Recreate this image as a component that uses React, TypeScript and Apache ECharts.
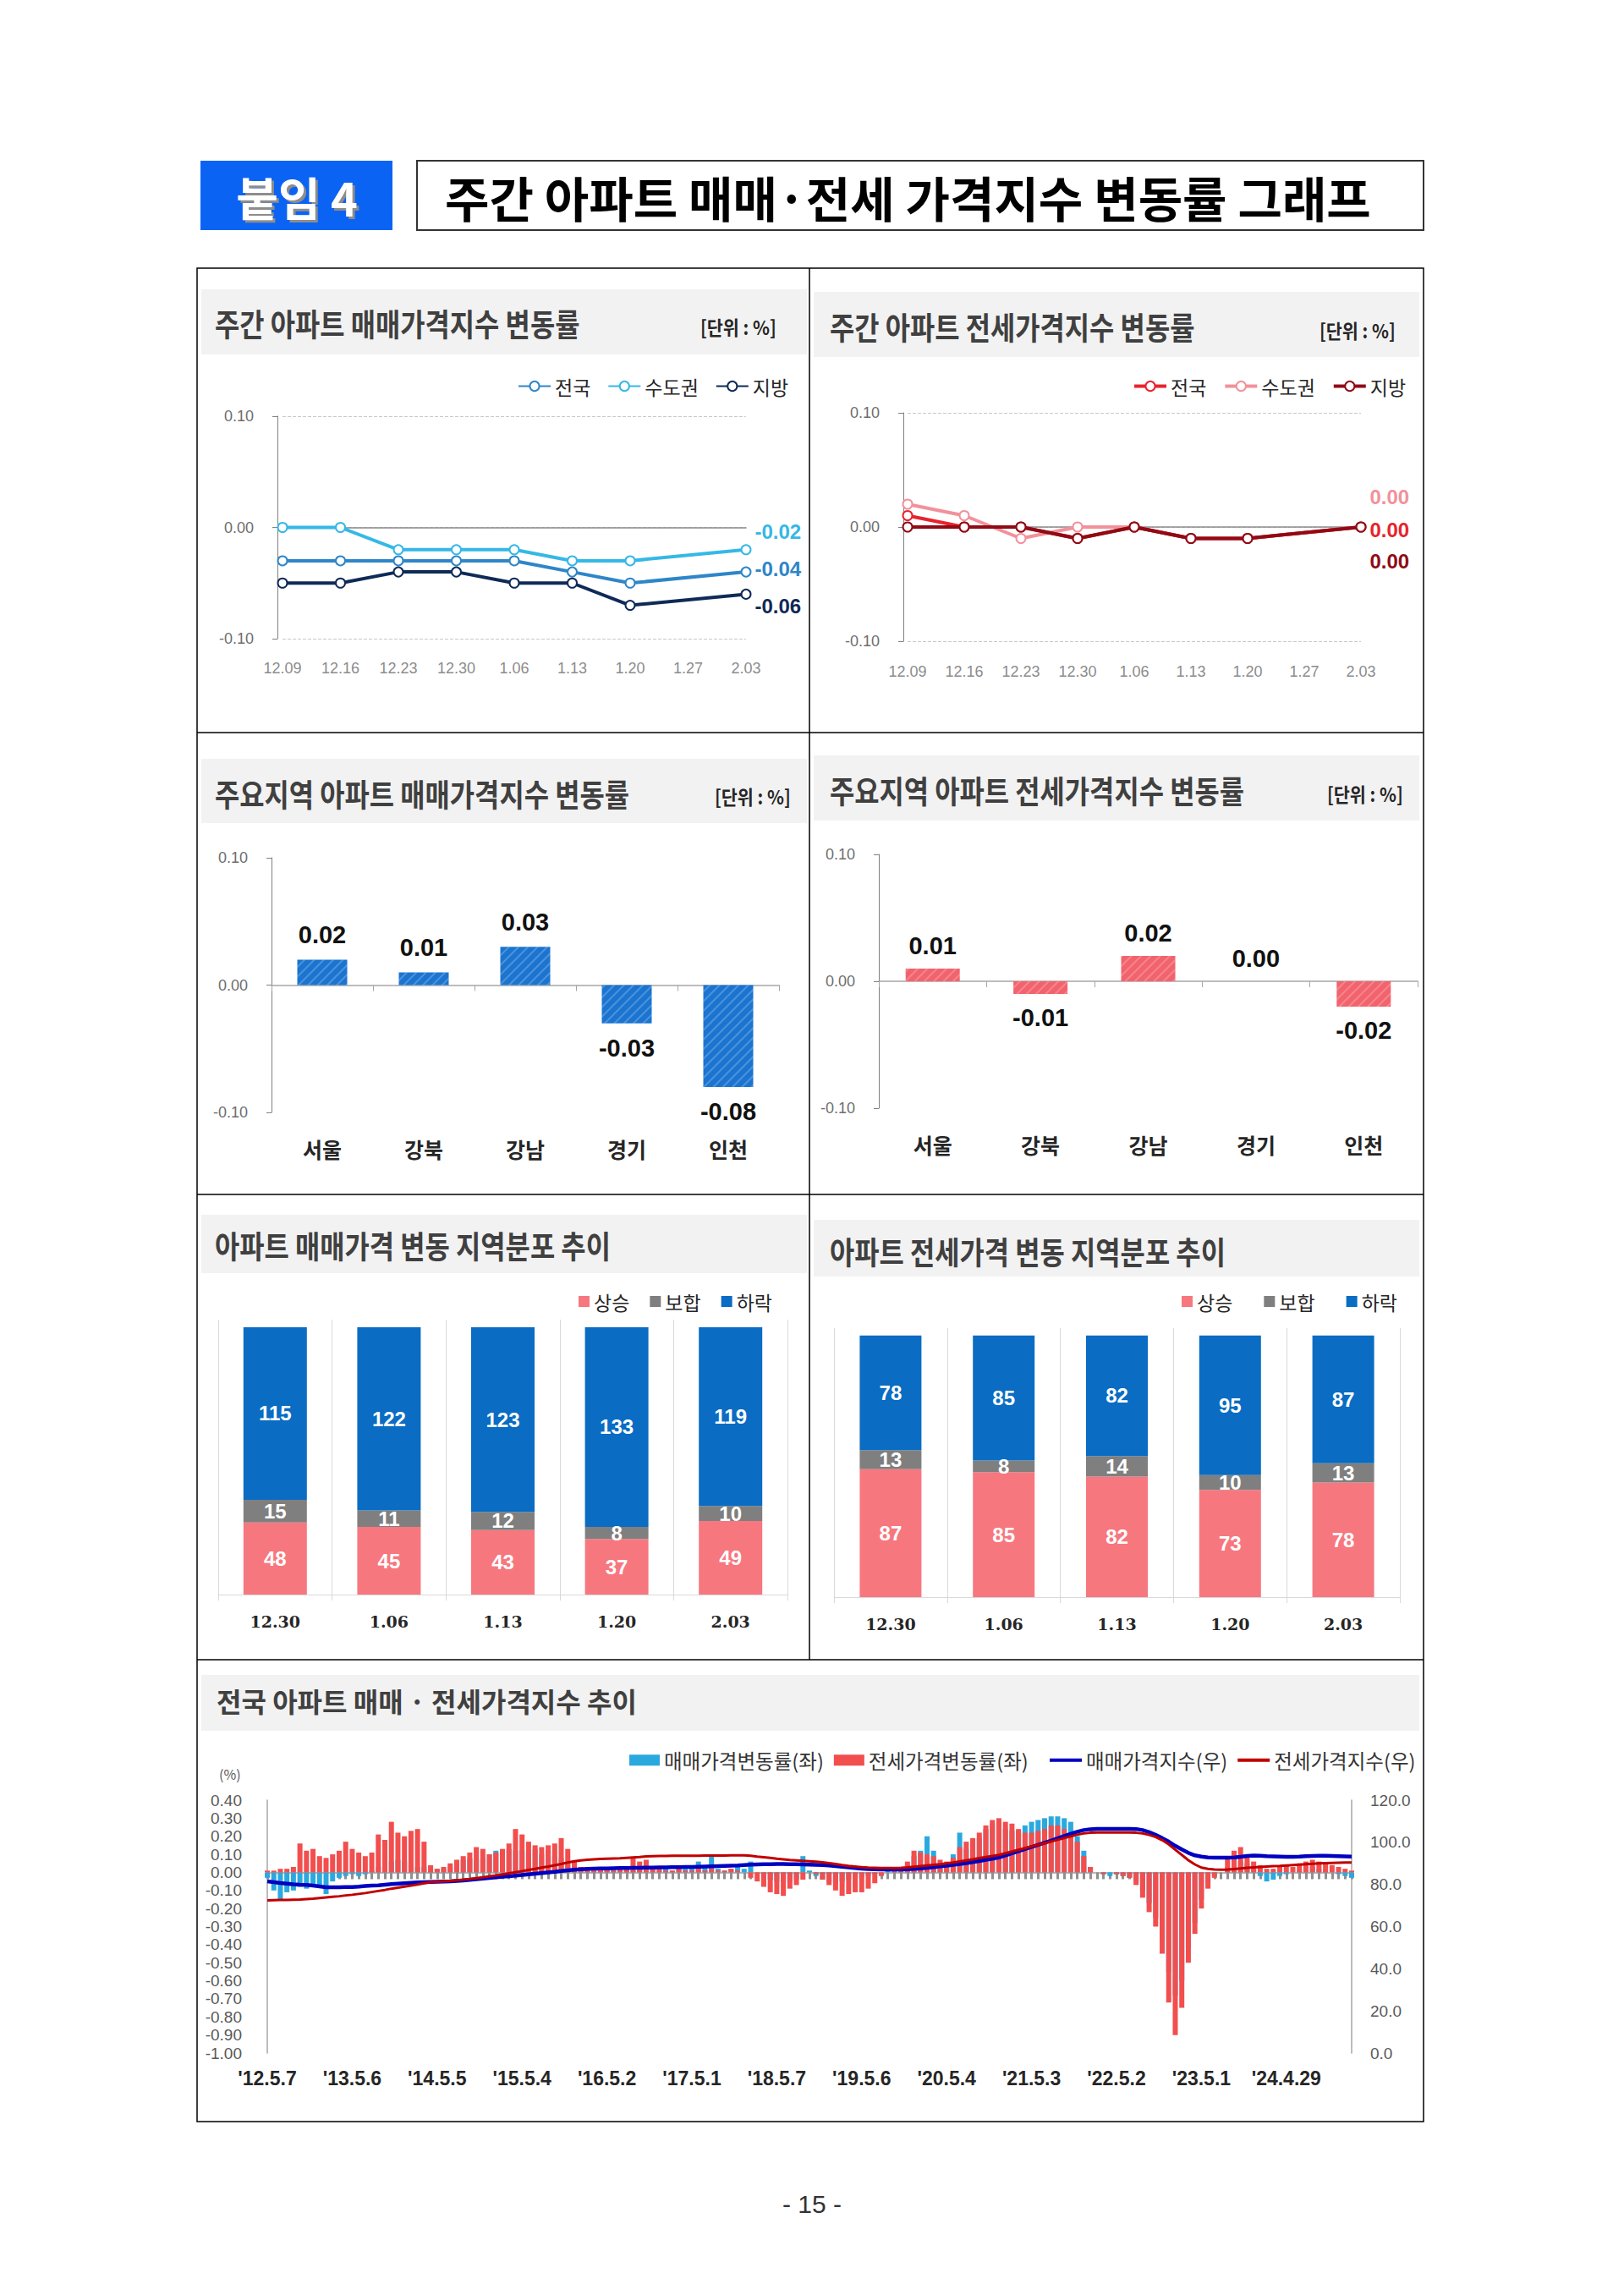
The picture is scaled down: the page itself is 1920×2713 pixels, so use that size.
import React, { useEffect, useRef } from 'react';
import * as echarts from 'echarts';

// ---------------- DATA ----------------
const weekCats = ['12.09', '12.16', '12.23', '12.30', '1.06', '1.13', '1.20', '1.27', '2.03'];
const saleNational = [-0.03, -0.03, -0.03, -0.03, -0.03, -0.04, -0.05, null, -0.04];
const saleCapital = [0.0, 0.0, -0.02, -0.02, -0.02, -0.03, -0.03, null, -0.02];
const saleProvince = [-0.05, -0.05, -0.04, -0.04, -0.05, -0.05, -0.07, null, -0.06];
const jeonseNational = [0.01, 0.0, 0.0, -0.01, 0.0, -0.01, -0.01, null, 0.0];
const jeonseCapital = [0.02, 0.01, -0.01, 0.0, 0.0, -0.01, -0.01, null, 0.0];
const jeonseProvince = [0.0, 0.0, 0.0, -0.01, 0.0, -0.01, -0.01, null, 0.0];

const regions = ['서울', '강북', '강남', '경기', '인천'];
const regionSale = [0.02, 0.01, 0.03, -0.03, -0.08];
const regionJeonse = [0.01, -0.01, 0.02, 0.0, -0.02];

const distCats = ['12.30', '1.06', '1.13', '1.20', '2.03'];
const saleUp = [48, 45, 43, 37, 49];
const saleFlat = [15, 11, 12, 8, 10];
const saleDown = [115, 122, 123, 133, 119];
const jeonseUp = [87, 85, 82, 73, 78];
const jeonseFlat = [13, 8, 14, 10, 13];
const jeonseDown = [78, 85, 82, 95, 87];

// long-run chart: one sample every 4 weeks from '12.5.7
const longTickLabels = ["'12.5.7", "'13.5.6", "'14.5.5", "'15.5.4", "'16.5.2", "'17.5.1", "'18.5.7", "'19.5.6", "'20.5.4", "'21.5.3", "'22.5.2", "'23.5.1", "'24.4.29"];
const longTickIdx = [0, 13, 26, 39, 52, 65, 78, 91, 104, 117, 130, 143, 156];

const saleRate = [
  -0.03, -0.10, -0.15, -0.11, -0.10, -0.08, -0.09, -0.07, -0.08, -0.12, -0.05, -0.03, -0.02,
  -0.01, -0.02, -0.01, 0.01, 0.03, 0.05, 0.06, 0.07, 0.06, 0.04, 0.03, 0.03, 0.02,
  0.02, 0.02, 0.03, 0.05, 0.07, 0.08, 0.07, 0.08, 0.10, 0.12, 0.11, 0.13, 0.12,
  0.12, 0.11, 0.13, 0.10, 0.12, 0.09, 0.08, 0.06, 0.03, 0.02, 0.01, 0.01, 0.02,
  0.02, 0.02, 0.03, 0.02, 0.01, 0.02, 0.01, 0.02, 0.01, 0.02, 0.01, 0.02, 0.02,
  0.03, 0.06, 0.03, 0.10, 0.02, 0.01, 0.02, 0.03, 0.02, 0.06, 0.00, -0.02, -0.04,
  -0.05, -0.06, -0.05, -0.04, 0.09, 0.01, -0.02, -0.04, -0.05, -0.06, -0.05, -0.04, -0.03,
  -0.03, -0.02, -0.01, 0.00, 0.01, 0.02, 0.03, 0.04, 0.09, 0.12, 0.20, 0.12, 0.05,
  0.05, 0.10, 0.22, 0.13, 0.17, 0.19, 0.24, 0.27, 0.28, 0.24, 0.23, 0.23, 0.26,
  0.28, 0.29, 0.30, 0.31, 0.31, 0.30, 0.28, 0.20, 0.12, 0.03, 0.00, -0.01, -0.02,
  -0.01, -0.02, -0.03, -0.05, -0.10, -0.17, -0.25, -0.38, -0.55, -0.68, -0.60, -0.42, -0.28,
  -0.15, -0.06, -0.02, 0.00, 0.03, 0.05, 0.06, 0.05, 0.02, -0.02, -0.05, -0.04, -0.02,
  -0.01, 0.00, 0.01, 0.02, 0.03, 0.02, 0.01, 0.00, -0.01, -0.02, -0.03,
];
const jeonseRate = [
  0.01, 0.01, 0.02, 0.02, 0.03, 0.16, 0.12, 0.13, 0.09, 0.08, 0.10, 0.12, 0.17,
  0.13, 0.11, 0.09, 0.11, 0.21, 0.18, 0.28, 0.22, 0.20, 0.23, 0.24, 0.17, 0.04,
  0.02, 0.03, 0.05, 0.07, 0.09, 0.11, 0.14, 0.13, 0.10, 0.11, 0.13, 0.16, 0.24,
  0.21, 0.17, 0.15, 0.14, 0.15, 0.16, 0.19, 0.13, 0.06, 0.03, 0.02, 0.01, 0.02,
  0.02, 0.01, 0.02, 0.03, 0.08, 0.06, 0.07, 0.03, 0.02, 0.01, 0.01, 0.02, 0.01,
  0.01, 0.02, 0.01, 0.02, 0.01, 0.01, 0.02, 0.01, 0.00, -0.03, -0.05, -0.08, -0.11,
  -0.12, -0.13, -0.09, -0.07, -0.04, 0.00, -0.01, -0.04, -0.07, -0.10, -0.13, -0.12, -0.11,
  -0.11, -0.09, -0.06, -0.02, 0.00, 0.01, 0.03, 0.06, 0.12, 0.11, 0.10, 0.09, 0.07,
  0.06, 0.08, 0.14, 0.17, 0.19, 0.22, 0.26, 0.29, 0.30, 0.28, 0.27, 0.24, 0.22,
  0.22, 0.23, 0.24, 0.26, 0.26, 0.24, 0.21, 0.17, 0.09, 0.03, 0.00, -0.01, 0.00,
  -0.01, -0.02, -0.03, -0.07, -0.14, -0.22, -0.30, -0.45, -0.72, -0.90, -0.75, -0.50, -0.34,
  -0.20, -0.09, -0.03, 0.00, 0.08, 0.12, 0.14, 0.10, 0.06, 0.04, 0.02, 0.02, 0.03,
  0.04, 0.03, 0.05, 0.06, 0.07, 0.06, 0.05, 0.04, 0.03, 0.02, 0.01,
];
const saleIndex = [
  81.5, 81.1, 80.7, 80.4, 80.1, 79.9, 79.8, 79.5, 79.1, 78.7, 78.7, 78.7, 78.8,
  78.8, 79.0, 79.3, 79.5, 79.6, 79.9, 80.2, 80.4, 80.6, 80.8, 81.0, 81.1, 81.2,
  81.3, 81.4, 81.5, 81.7, 81.9, 82.2, 82.5, 82.8, 83.1, 83.4, 83.7, 83.9, 84.2,
  84.5, 84.8, 85.1, 85.4, 85.7, 86.0, 86.4, 86.7, 87.0, 87.2, 87.4, 87.5, 87.6,
  87.6, 87.7, 87.8, 87.8, 87.9, 87.9, 88.0, 88.0, 88.1, 88.1, 88.2, 88.2, 88.3,
  88.3, 88.4, 88.5, 88.6, 88.7, 88.8, 88.9, 89.0, 89.2, 89.4, 89.5, 89.6, 89.6,
  89.7, 89.7, 89.6, 89.6, 89.5, 89.4, 89.3, 89.2, 89.0, 88.7, 88.4, 88.1, 87.8,
  87.5, 87.3, 87.2, 87.1, 87.1, 87.1, 87.1, 87.2, 87.4, 87.6, 87.9, 88.2, 88.6,
  88.9, 89.3, 89.7, 90.1, 90.6, 91.1, 91.7, 92.2, 92.8, 93.8, 94.8, 95.8, 96.8,
  97.8, 98.8, 99.8, 100.8, 101.9, 103.0, 104.0, 105.0, 105.8, 106.2, 106.4, 106.4, 106.4,
  106.4, 106.4, 106.4, 106.3, 105.8, 104.8, 103.5, 102.0, 100.3, 98.3, 96.6, 95.0, 93.8,
  93.2, 92.8, 92.7, 92.7, 92.7, 92.8, 93.1, 93.5, 93.7, 93.6, 93.4, 93.3, 93.2,
  93.1, 93.1, 93.2, 93.4, 93.5, 93.6, 93.6, 93.5, 93.4, 93.3, 93.2,
];
const jeonseIndex = [
  72.4, 72.5, 72.6, 72.6, 72.7, 72.8, 73.0, 73.2, 73.5, 73.8, 74.1, 74.4, 74.8,
  75.1, 75.5, 75.9, 76.4, 76.9, 77.4, 78.0, 78.5, 79.0, 79.5, 80.0, 80.6, 81.1,
  81.3, 81.5, 81.7, 82.0, 82.3, 82.6, 83.0, 83.4, 83.9, 84.3, 84.8, 85.3, 85.8,
  86.3, 86.9, 87.4, 88.0, 88.5, 89.1, 89.7, 90.4, 91.0, 91.4, 91.7, 91.9, 92.1,
  92.2, 92.3, 92.4, 92.6, 92.8, 93.0, 93.3, 93.4, 93.5, 93.5, 93.6, 93.6, 93.6,
  93.6, 93.6, 93.7, 93.7, 93.7, 93.7, 93.8, 93.8, 93.8, 93.6, 93.2, 92.9, 92.6,
  92.2, 91.9, 91.6, 91.4, 91.2, 91.0, 90.8, 90.5, 90.1, 89.7, 89.2, 88.8, 88.5,
  88.2, 88.0, 87.9, 87.8, 87.8, 87.8, 87.9, 88.1, 88.4, 88.7, 89.0, 89.3, 89.6,
  90.0, 90.4, 90.9, 91.4, 91.9, 92.5, 93.0, 93.5, 94.0, 94.8, 95.6, 96.4, 97.2,
  98.0, 98.8, 99.6, 100.4, 101.2, 102.0, 102.8, 103.6, 104.2, 104.5, 104.6, 104.6, 104.6,
  104.6, 104.6, 104.6, 104.5, 104.2, 103.5, 102.5, 101.0, 99.0, 96.5, 94.0, 91.5, 89.5,
  88.0, 87.4, 87.1, 87.0, 87.1, 87.3, 87.6, 87.9, 88.1, 88.3, 88.5, 88.7, 88.8,
  89.0, 89.2, 89.4, 89.6, 89.8, 90.0, 90.1, 90.2, 90.3, 90.4, 90.4,
];

// ---------------- STYLE ----------------
const KR = "'Noto Sans CJK KR', 'Noto Sans', sans-serif";
const NARROW = "'Liberation Sans', Arial, sans-serif";
const SERIF = "'DejaVu Serif', 'Liberation Serif', serif";
const C = {
  sN: '#2e86c8', sC: '#35b8e6', sP: '#0f2a57',
  jN: '#e8232c', jC: '#f2919b', jP: '#8e0b16',
  barSale: '#1b74d0', barJeonse: '#f2636d',
  up: '#f7777f', flat: '#7f7f7f', down: '#0a6cc2',
  rSale: '#2aa9df', rJeonse: '#f24e4e', iSale: '#0000c0', iJeonse: '#c00000',
};

const fmt2 = (v: number) => (Math.abs(v) < 1e-9 ? '0.00' : v.toFixed(2));

function lineSeries(name: string, data: any[], color: string, xi: number, yi: number, dy: number, z: number) {
  const n = data.length;
  return {
    type: 'line', name, xAxisIndex: xi, yAxisIndex: yi, connectNulls: true, z,
    symbol: 'emptyCircle', symbolSize: 11,
    lineStyle: { color, width: 4 },
    itemStyle: { color, borderColor: color, borderWidth: 3 },
    data: data.map((v, i) =>
      i === n - 1
        ? {
            value: v,
            label: {
              show: true, position: 'right', distance: 4, offset: [0, dy],
              formatter: (p: any) => fmt2(Number(p.value)),
              color, fontFamily: NARROW, fontWeight: 'bold', fontSize: 24,
            },
          }
        : v
    ),
  };
}

function labelAxis(gi: number, data: any[], boundaryGap: boolean, axisLabel: any) {
  return {
    gridIndex: gi, type: 'category', data, boundaryGap, position: 'bottom',
    axisLine: { show: false, onZero: false }, axisTick: { show: false }, splitLine: { show: false }, axisLabel,
  };
}
function zeroAxis(gi: number, data: any[], boundaryGap: boolean, color: string, tick: any, onZeroAxisIndex?: number) {
  const axisLine: any = { show: true, onZero: true, lineStyle: { color, width: 1.5 } };
  if (onZeroAxisIndex !== undefined) axisLine.onZeroAxisIndex = onZeroAxisIndex;
  return {
    gridIndex: gi, type: 'category', data, boundaryGap, position: 'bottom',
    axisLine, axisTick: tick, axisLabel: { show: false }, splitLine: { show: false },
  };
}

function txt(x: number, y: number, text: string, style: any, extra: any = {}) {
  return {
    type: 'text', x, y, silent: true, ...extra,
    style: {
      text, fontFamily: KR, align: 'left', textAlign: 'left', verticalAlign: 'middle', textVerticalAlign: 'middle',
      ...style,
    },
  };
}
function box(x: number, y: number, w: number, h: number, style: any) {
  return { type: 'rect', silent: true, shape: { x, y, width: w, height: h }, style };
}
function seg(x1: number, y1: number, x2: number, y2: number) {
  return { type: 'line', silent: true, shape: { x1, y1, x2, y2 }, style: { stroke: '#000', lineWidth: 1.5 } };
}

function buildOption(): any {
  const longCats = saleRate.map((_, i) => String(i));
  const titleStyle = { fontSize: 37, fontWeight: 'bold', fill: '#404040' };
  const unitStyle = { fontSize: 23, fontWeight: 'bold', fill: '#262626' };
  const band = '#f2f2f2';
  const TS = 0.86;

  const graphic: any[] = [
    box(237, 190, 227, 82, { fill: '#0b63f4' }),
    txt(354, 235, '붙임 4', { fontSize: 54, fontWeight: 'bold', fill: '#8d8d8d', align: 'center', textAlign: 'center' }),
    txt(351, 232, '붙임 4', { fontSize: 54, fontWeight: 'bold', fill: '#ffffff', align: 'center', textAlign: 'center' }),
    box(493, 190, 1190, 82, { fill: 'none', stroke: '#333', lineWidth: 2 }),
    txt(526, 232, '주간 아파트 매매·전세 가격지수 변동률 그래프', { fontSize: 57, fontWeight: 'bold', fill: '#000' }),

    box(238, 342, 716, 77, { fill: band }),
    box(962, 345, 716, 77, { fill: band }),
    box(238, 897, 716, 76, { fill: band }),
    box(962, 893, 716, 77, { fill: band }),
    box(238, 1436, 716, 69, { fill: band }),
    box(962, 1442, 716, 67, { fill: band }),
    box(238, 1980, 1440, 66, { fill: band }),

    box(233, 317, 1450, 2191, { fill: 'none', stroke: '#000', lineWidth: 1.5 }),
    seg(957, 317, 957, 1962),
    seg(233, 866, 1683, 866),
    seg(233, 1412, 1683, 1412),
    seg(233, 1962, 1683, 1962),

    txt(254, 382, '주간 아파트 매매가격지수 변동률', titleStyle, { scaleX: TS }),
    txt(981, 386, '주간 아파트 전세가격지수 변동률', titleStyle, { scaleX: TS }),
    txt(254, 938, '주요지역 아파트 매매가격지수 변동률', titleStyle, { scaleX: TS }),
    txt(981, 934, '주요지역 아파트 전세가격지수 변동률', titleStyle, { scaleX: TS }),
    txt(254, 1472, '아파트 매매가격 변동 지역분포 추이', titleStyle, { scaleX: TS }),
    txt(981, 1479, '아파트 전세가격 변동 지역분포 추이', titleStyle, { scaleX: TS }),
    txt(256, 2010, '전국 아파트 매매 · 전세가격지수 추이', { fontSize: 32, fontWeight: 'bold', fill: '#404040' }),

    txt(828, 386, '[단위 : %]', unitStyle, { scaleX: 0.9 }),
    txt(1560, 390, '[단위 : %]', unitStyle, { scaleX: 0.9 }),
    txt(845, 941, '[단위 : %]', unitStyle, { scaleX: 0.9 }),
    txt(1569, 938, '[단위 : %]', unitStyle, { scaleX: 0.9 }),

    txt(259, 2097, '(%)', { fontSize: 16, fill: '#595959' }),
    txt(960, 2605, '- 15 -', { fontSize: 30, fill: '#333', fontFamily: "'Liberation Sans', sans-serif", align: 'center', textAlign: 'center' }),
  ];

  const smallTick = { fontSize: 18, color: '#6e6e6e', fontFamily: NARROW };
  const weekLabel = { fontSize: 18, color: '#8c8c8c', fontFamily: NARROW, margin: 26, interval: 0 };
  const regionLabel = { fontSize: 25, color: '#262626', fontFamily: KR, fontWeight: 'bold', margin: 30, interval: 0 };
  const distLabel = { fontSize: 19, color: '#262626', fontFamily: SERIF, fontWeight: 'bold', margin: 22, interval: 0 };

  const xAxis = [
    labelAxis(0, weekCats, false, weekLabel),
    zeroAxis(0, weekCats, false, '#8c8c8c', { show: false }),
    labelAxis(1, weekCats, false, { ...weekLabel, margin: 27 }),
    zeroAxis(1, weekCats, false, '#8c8c8c', { show: false }),
    labelAxis(2, regions, true, regionLabel),
    zeroAxis(2, regions, true, '#a6a6a6', { show: true, length: 7, lineStyle: { color: '#a6a6a6' } }),
    labelAxis(3, regions, true, regionLabel),
    zeroAxis(3, regions, true, '#a6a6a6', { show: true, length: 7, lineStyle: { color: '#a6a6a6' } }),
    {
      gridIndex: 4, type: 'category', data: distCats, position: 'bottom',
      axisLine: { show: true, onZero: false, lineStyle: { color: '#d9d9d9' } },
      axisTick: { show: true, length: 7, lineStyle: { color: '#d9d9d9' } },
      splitLine: { show: true, interval: 0, lineStyle: { color: '#d9d9d9' } },
      axisLabel: distLabel,
    },
    {
      gridIndex: 5, type: 'category', data: distCats, position: 'bottom',
      axisLine: { show: true, onZero: false, lineStyle: { color: '#d9d9d9' } },
      axisTick: { show: true, length: 7, lineStyle: { color: '#d9d9d9' } },
      splitLine: { show: true, interval: 0, lineStyle: { color: '#d9d9d9' } },
      axisLabel: distLabel,
    },
    labelAxis(6, longCats, false, {
      interval: (i: number) => longTickIdx.indexOf(i) >= 0,
      formatter: (_v: any, i: number) => {
        const k = longTickIdx.indexOf(i);
        return k >= 0 ? longTickLabels[k] : '';
      },
      margin: 18, fontSize: 23, fontWeight: 'bold', fontFamily: NARROW, color: '#262626',
    }),
    zeroAxis(6, longCats, false, '#a0a0a0', { show: true, interval: 0, length: 8, lineStyle: { color: '#8f8f8f', width: 3 } }, 6),
  ];

  const yRate = (gi: number, offset: number, dashed: boolean) => ({
    gridIndex: gi, type: 'value', min: -0.1, max: 0.1, interval: 0.1, offset,
    axisLine: { show: true, lineStyle: { color: '#808080' } },
    axisTick: { show: true, length: 6, lineStyle: { color: '#808080' } },
    axisLabel: { ...smallTick, margin: 28, formatter: (v: number) => fmt2(v) },
    splitLine: { show: dashed, lineStyle: { type: 'dashed', color: '#c8c8c8' } },
  });

  const yAxis = [
    yRate(0, 6, true),
    yRate(1, 5, true),
    yRate(2, 0, false),
    yRate(3, 0, false),
    { gridIndex: 4, type: 'value', min: 0, max: 183, show: false },
    { gridIndex: 5, type: 'value', min: 0, max: 183, show: false },
    {
      gridIndex: 6, type: 'value', min: -1, max: 0.4, interval: 0.1, position: 'left',
      axisLine: { show: true, lineStyle: { color: '#a6a6a6', width: 1.5 } }, axisTick: { show: false },
      splitLine: { show: false },
      axisLabel: { margin: 30, fontSize: 19, color: '#595959', fontFamily: NARROW, formatter: (v: number) => fmt2(v) },
    },
    {
      gridIndex: 6, type: 'value', min: 0, max: 120, interval: 20, position: 'right',
      axisLine: { show: true, lineStyle: { color: '#a6a6a6', width: 1.5 } }, axisTick: { show: false },
      splitLine: { show: false },
      axisLabel: { margin: 22, fontSize: 19, color: '#595959', fontFamily: NARROW, formatter: (v: number) => v.toFixed(1) },
    },
  ];

  const hatch = (c: string) => ({
    color: c,
    decal: { symbol: 'rect', symbolSize: 1, dashArrayX: [1, 0], dashArrayY: [2, 6], rotation: -Math.PI / 4, color: 'rgba(255,255,255,0.22)' },
  });
  const barLabel = (dist: number) => ({
    show: true, distance: dist, formatter: (p: any) => fmt2(Number(p.value)),
    fontSize: 29, fontWeight: 'bold', fontFamily: NARROW, color: '#111',
  });
  const signedItems = (arr: number[]) => arr.map((v) => ({ value: v, label: { position: v < 0 ? 'bottom' : 'top' } }));

  const stackLabel = { show: true, position: 'inside', color: '#fff', fontSize: 24, fontWeight: 'bold', fontFamily: NARROW };
  const stackBar = (name: string, data: number[], color: string, xi: number, yi: number, stack: string, w: number) => ({
    type: 'bar', name, data, stack, xAxisIndex: xi, yAxisIndex: yi, barWidth: w,
    itemStyle: { color }, label: stackLabel,
  });

  const series: any[] = [
    lineSeries('전국', saleNational, C.sN, 0, 0, -4, 3),
    lineSeries('수도권', saleCapital, C.sC, 0, 0, -21, 3),
    lineSeries('지방', saleProvince, C.sP, 0, 0, 14, 4),

    lineSeries('수도권', jeonseCapital, C.jC, 2, 1, -36, 3),
    lineSeries('전국', jeonseNational, C.jN, 2, 1, 3, 4),
    lineSeries('지방', jeonseProvince, C.jP, 2, 1, 40, 5),

    {
      type: 'bar', name: '주요지역 매매', xAxisIndex: 4, yAxisIndex: 2, barWidth: 59,
      data: signedItems(regionSale), itemStyle: hatch(C.barSale), label: barLabel(15),
    },
    {
      type: 'bar', name: '주요지역 전세', xAxisIndex: 6, yAxisIndex: 3, barWidth: 64,
      data: signedItems(regionJeonse), itemStyle: hatch(C.barJeonse), label: barLabel(13),
    },

    stackBar('상승', saleUp, C.up, 8, 4, 'p5', 75),
    stackBar('보합', saleFlat, C.flat, 8, 4, 'p5', 75),
    stackBar('하락', saleDown, C.down, 8, 4, 'p5', 75),
    stackBar('상승', jeonseUp, C.up, 9, 5, 'p6', 73),
    stackBar('보합', jeonseFlat, C.flat, 9, 5, 'p6', 73),
    stackBar('하락', jeonseDown, C.down, 9, 5, 'p6', 73),

    {
      type: 'bar', name: '매매가격변동률(좌)', xAxisIndex: 10, yAxisIndex: 6, data: saleRate,
      barWidth: 6, barGap: '-100%', itemStyle: { color: C.rSale },
    },
    {
      type: 'bar', name: '전세가격변동률(좌)', xAxisIndex: 10, yAxisIndex: 6, data: jeonseRate,
      barWidth: 6, barGap: '-100%', itemStyle: { color: C.rJeonse },
    },
    {
      type: 'line', name: '매매가격지수(우)', xAxisIndex: 10, yAxisIndex: 7, data: saleIndex,
      symbol: 'none', lineStyle: { color: C.iSale, width: 4.5 }, itemStyle: { color: C.iSale }, z: 5,
    },
    {
      type: 'line', name: '전세가격지수(우)', xAxisIndex: 10, yAxisIndex: 7, data: jeonseIndex,
      symbol: 'none', lineStyle: { color: C.iJeonse, width: 3 }, itemStyle: { color: C.iJeonse }, z: 5,
    },
  ];

  const lgText = (size: number) => ({ fontSize: size, color: '#262626', fontFamily: KR });
  const lineLegendItem = (name: string, color: string) => ({
    name, itemStyle: { color }, lineStyle: { color, width: 4 },
  });

  const legend = [
    {
      left: 607, top: 440, itemWidth: 38, itemHeight: 14, itemGap: 20, textStyle: lgText(23),
      data: ['전국', '수도권', '지방'],
    },
    {
      left: 1334, top: 440, itemWidth: 38, itemHeight: 14, itemGap: 20, textStyle: lgText(23),
      data: [lineLegendItem('전국', C.jN), lineLegendItem('수도권', C.jC), lineLegendItem('지방', C.jP)],
    },
    { left: 679, top: 1522, icon: 'rect', itemWidth: 13, itemHeight: 13, itemGap: 24, textStyle: lgText(23), data: ['상승', '보합', '하락'] },
    { left: 1392, top: 1522, icon: 'rect', itemWidth: 13, itemHeight: 13, itemGap: 37, textStyle: lgText(23), data: ['상승', '보합', '하락'] },
    {
      left: 739, top: 2064, icon: 'rect', itemWidth: 36, itemHeight: 13, itemGap: 12, textStyle: { ...lgText(23.5), color: '#333' },
      data: ['매매가격변동률(좌)', '전세가격변동률(좌)'],
    },
    {
      left: 1236, top: 2064, icon: 'rect', itemWidth: 38, itemHeight: 4, itemGap: 12, textStyle: { ...lgText(23.5), color: '#333' },
      data: ['매매가격지수(우)', '전세가격지수(우)'],
    },
  ];

  return {
    animation: false,
    backgroundColor: '#ffffff',
    textStyle: { fontFamily: KR },
    grid: [
      { left: 334, top: 492, width: 548, height: 263 },
      { left: 1073, top: 488, width: 536, height: 270 },
      { left: 321, top: 1014, width: 600, height: 301 },
      { left: 1039, top: 1010, width: 637, height: 300 },
      { left: 258, top: 1560, width: 673, height: 325 },
      { left: 986, top: 1570, width: 669, height: 318 },
      { left: 316, top: 2128, width: 1282, height: 299 },
    ],
    xAxis,
    yAxis,
    legend,
    series,
    graphic,
  };
}

export default function App() {
  const ref = useRef<HTMLDivElement>(null);
  useEffect(() => {
    if (!ref.current) return;
    const chart = echarts.init(ref.current, null, { renderer: 'svg' });
    chart.setOption(buildOption());
    return () => chart.dispose();
  }, []);
  return (
    <div
      ref={ref}
      style={{ position: 'absolute', left: 0, top: 0, width: 1920, height: 2713, background: '#ffffff' }}
    />
  );
}
